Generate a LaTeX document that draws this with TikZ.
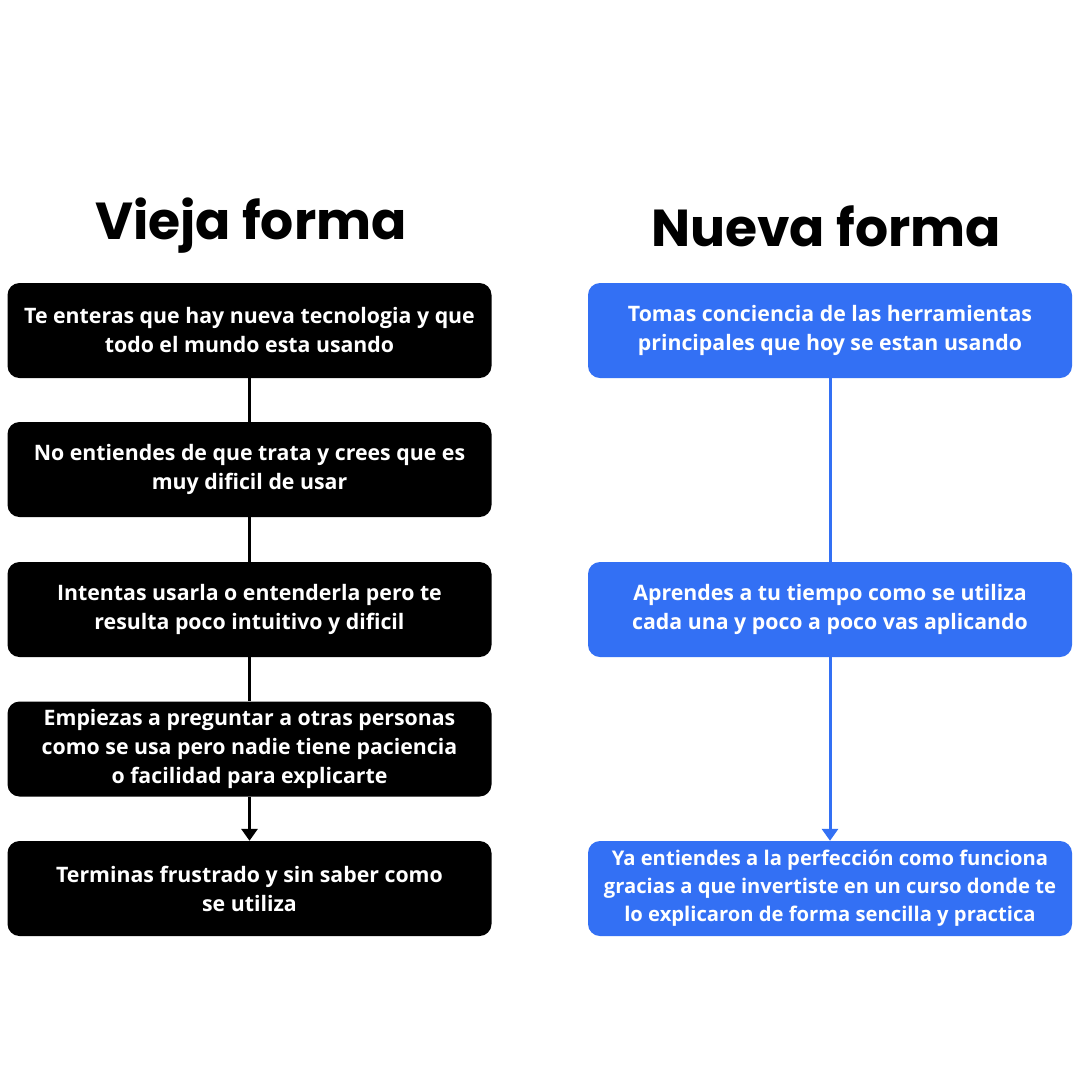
\documentclass[tikz,border=0pt]{standalone}
\usepackage{fontspec}
\setmainfont{Open Sans}
\newfontfamily\titlefont{Poppins}
\usetikzlibrary{arrows.meta}
\definecolor{nuevablue}{HTML}{3370F4}
\tikzset{
	viejabox/.style={fill=black,text=white,rounded corners=12pt,minimum width=484pt,minimum height=95pt,align=center,inner sep=0pt,font=\bfseries\fontsize{21.3}{29}\selectfont},
	nuevabox/.style={viejabox,fill=nuevablue},
	titulo/.style={font=\titlefont\bfseries\fontsize{52}{52}\selectfont}
}

\begin{document}
\begin{tikzpicture}[x=1pt,y=-1pt]
	\useasboundingbox[fill=white] (0,0) rectangle (1080,1080);
	\node[titulo] (tv) at (251,226) {Vieja forma};
	\node[titulo] (tn) at (826,226) {Nueva forma};
	\node[viejabox] (v1) at (249.5,330.5) {Te enteras que hay nueva tecnologia y que\\todo el mundo esta usando};
	\node[viejabox] (v2) at (249.5,469.5) {No entiendes de que trata y crees que es\\muy dificil de usar};
	\node[viejabox] (v3) at (249.5,609.5) {Intentas usarla o entenderla pero te\\resulta poco intuitivo y dificil};
	\node[viejabox] (v4) at (249.5,749) {Empiezas a preguntar a otras personas\\como se usa pero nadie tiene paciencia\\o facilidad para explicarte};
	\node[viejabox] (v5) at (249.5,888.5) {Terminas frustrado y sin saber como\\se utiliza};
	\node[nuevabox] (n1) at (830,330.5) {Tomas conciencia de las herramientas\\principales que hoy se estan usando};
	\node[nuevabox] (n2) at (830,609.5) {Aprendes a tu tiempo como se utiliza\\cada una y poco a poco vas aplicando};
	\node[nuevabox,font=\bfseries\fontsize{20.2}{28}\selectfont] (n3) at (830,888.5) {Ya entiendes a la perfección como funciona\\gracias a que invertiste en un curso donde te\\lo explicaron de forma sencilla y practica};
	\draw[line width=3pt] (v1) -- (v2);
	\draw[line width=3pt] (v2) -- (v3);
	\draw[line width=3pt] (v3) -- (v4);
	\draw[line width=3pt,-{Triangle[width=16pt,length=12pt]}] (v4) -- (v5);
	\draw[line width=3pt,nuevablue] (n1) -- (n2);
	\draw[line width=3pt,nuevablue,-{Triangle[width=16pt,length=12pt]}] (n2) -- (n3);
\end{tikzpicture}
\end{document}
